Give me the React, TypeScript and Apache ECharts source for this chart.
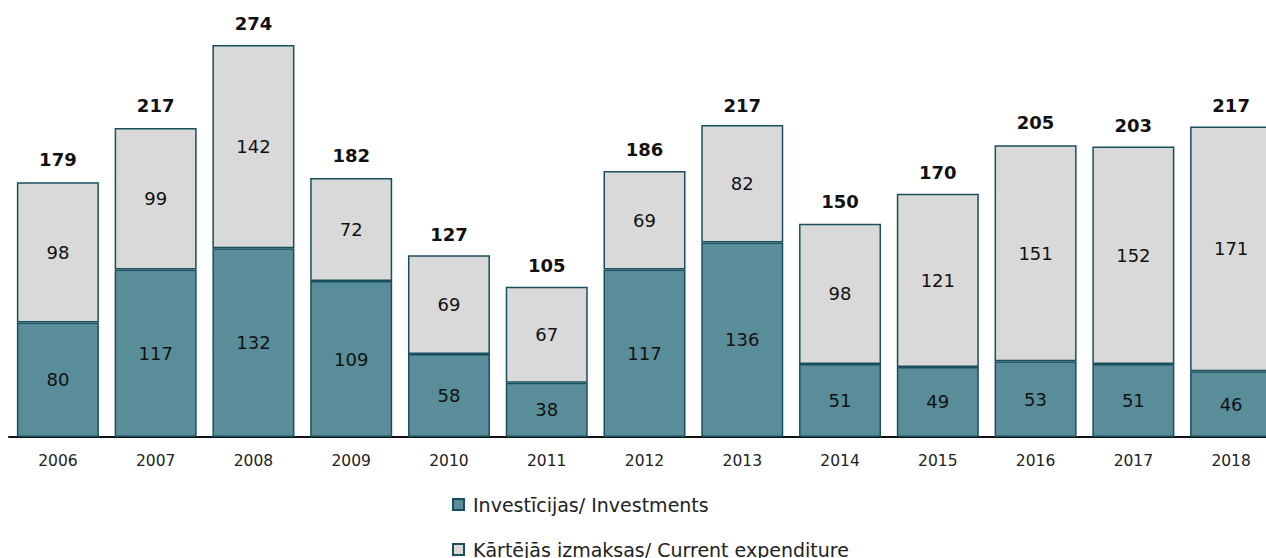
import React, { useEffect, useRef } from "react";
import * as echarts from "echarts";

const years = ["2006", "2007", "2008", "2009", "2010", "2011", "2012", "2013", "2014", "2015", "2016", "2017", "2018"];
const investments = [80, 117, 132, 109, 58, 38, 117, 136, 51, 49, 53, 51, 46];
const current = [98, 99, 142, 72, 69, 67, 69, 82, 98, 121, 151, 152, 171];
const totals = [179, 217, 274, 182, 127, 105, 186, 217, 150, 170, 205, 203, 217];

const FONT = "'DejaVu Sans', Verdana, sans-serif";

export default function App() {
  const ref = useRef<HTMLDivElement>(null);
  useEffect(() => {
    const chart = echarts.init(ref.current!, null, { renderer: "svg" });
    const border = "#17505c";
    chart.setOption({
      animation: false,
      textStyle: { fontFamily: FONT },
      grid: { left: 9, right: 0, top: 36.4, bottom: 143, containLabel: false },
      legend: {
        data: ["Investīcijas/ Investments", "Kārtējās izmaksas/ Current expenditure"],
        orient: "vertical",
        left: 447,
        top: 490,
        itemWidth: 11,
        itemHeight: 11,
        itemGap: 26,
        icon: "rect",
        textStyle: { fontFamily: FONT, fontSize: 19, color: "#222", padding: [0, 0, 0, 4] },
      },
      xAxis: {
        type: "category",
        data: years,
        axisLine: { lineStyle: { color: "#111", width: 2 } },
        axisTick: { show: false },
        axisLabel: { fontFamily: FONT, fontSize: 15.5, color: "#222", margin: 16 },
      },
      yAxis: {
        type: "value",
        min: 0,
        max: 280,
        show: false,
        splitLine: { show: false },
      },
      series: [
        {
          name: "Investīcijas/ Investments",
          type: "bar",
          stack: "a",
          barWidth: 82,
          barGap: "-100%",
          data: investments,
          itemStyle: { color: "#5a8d9a", borderColor: border, borderWidth: 1.5 },
          label: { show: true, position: "inside", fontFamily: FONT, fontSize: 18, color: "#111" },
        },
        {
          name: "Kārtējās izmaksas/ Current expenditure",
          type: "bar",
          stack: "a",
          barWidth: 82,
          barGap: "-100%",
          data: current,
          itemStyle: { color: "#d9d9d9", borderColor: border, borderWidth: 1.5 },
          label: { show: true, position: "inside", fontFamily: FONT, fontSize: 18, color: "#111" },
        },
        {
          name: "total",
          type: "bar",
          barWidth: 82,
          barGap: "-100%",
          z: 1,
          data: totals,
          itemStyle: { color: "rgba(0,0,0,0)" },
          label: {
            show: true,
            position: "top",
            distance: 12,
            fontFamily: FONT,
            fontSize: 18,
            fontWeight: "bold",
            color: "#111",
          },
          silent: true,
        },
      ],
    });
    return () => chart.dispose();
  }, []);
  return (
    <div style={{ position: "fixed", left: 0, top: 0, width: 1266, height: 558, overflow: "hidden", background: "#fff" }}>
      <div ref={ref} style={{ position: "absolute", left: 0, top: 0, width: 1280, height: 580 }} />
    </div>
  );
}
